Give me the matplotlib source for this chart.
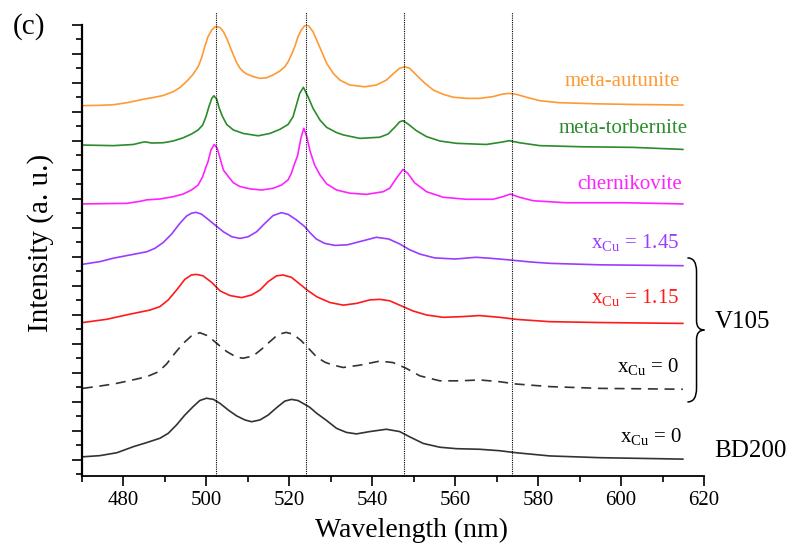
import matplotlib
matplotlib.use('Agg')
import matplotlib.pyplot as plt
from matplotlib.ticker import MultipleLocator
from matplotlib.path import Path
from matplotlib.patches import PathPatch

plt.rcParams['font.family'] = ['Liberation Serif', 'DejaVu Serif']
plt.rcParams['mathtext.fontset'] = 'custom'
plt.rcParams['mathtext.rm'] = 'Liberation Serif'

# spectra (wavelength in nm, intensity in stacked a.u.)
wl_autunite = [470.2, 474.3, 477.6, 480.8, 483.2, 484.8, 487.2, 489.6, 492.0, 493.6, 495.2, 496.8,
               498.0, 498.8, 499.6, 500.4, 501.3, 502.1, 502.6, 503.3, 504.1, 504.9, 505.7, 506.5,
               507.3, 508.1, 508.9, 509.7, 511.3, 512.9, 514.5, 516.1, 517.7, 518.9, 519.7, 520.5,
               521.3, 522.1, 522.9, 523.7, 524.5, 525.7, 526.6, 527.8, 529.0, 530.6, 532.2, 534.6,
               538.2, 541.0, 543.4, 545.0, 546.6, 547.8, 549.0, 550.6, 552.7, 554.7, 557.1, 559.5,
               562.7, 565.9, 569.1, 571.5, 573.1, 574.7, 577.2, 580.4, 585.2, 594.8, 602.9, 614.9]
int_autunite = [12.22, 12.23, 12.25, 12.32, 12.39, 12.44, 12.50, 12.57, 12.70, 12.84, 13.05, 13.30,
                13.56, 13.85, 14.25, 14.60, 14.83, 14.94, 14.94, 14.91, 14.77, 14.54, 14.25, 13.97,
                13.70, 13.51, 13.39, 13.31, 13.22, 13.16, 13.18, 13.28, 13.41, 13.56, 13.73, 13.97,
                14.25, 14.60, 14.83, 14.98, 15.00, 14.77, 14.48, 14.08, 13.68, 13.33, 13.10, 12.93,
                12.87, 12.93, 13.10, 13.31, 13.51, 13.56, 13.51, 13.28, 12.99, 12.76, 12.61, 12.51,
                12.47, 12.47, 12.53, 12.62, 12.64, 12.61, 12.51, 12.39, 12.32, 12.28, 12.26, 12.24]

wl_torbernite = [470.2, 477.6, 482.4, 484.4, 485.2, 486.8, 489.6, 492.0, 494.4, 496.4, 498.0, 499.1,
                 499.9, 500.6, 501.3, 501.8, 502.5, 503.1, 503.9, 504.9, 506.5, 508.9, 512.5, 515.3,
                 517.7, 519.7, 520.9, 521.7, 522.5, 523.4, 524.5, 525.7, 527.4, 529.0, 531.4, 533.0,
                 537.0, 541.8, 543.8, 545.4, 546.6, 547.4, 548.6, 550.6, 553.1, 556.3, 560.3, 567.5,
                 570.7, 573.1, 575.5, 580.4, 590.8, 602.9, 614.9]
int_torbernite = [10.86, 10.84, 10.88, 10.95, 10.97, 10.93, 10.94, 11.00, 11.11, 11.24, 11.38, 11.55,
                  11.84, 12.18, 12.47, 12.56, 12.44, 12.13, 11.84, 11.57, 11.38, 11.26, 11.18, 11.26,
                  11.40, 11.57, 11.84, 12.24, 12.64, 12.85, 12.53, 12.13, 11.72, 11.47, 11.29, 11.21,
                  11.09, 11.13, 11.24, 11.47, 11.66, 11.70, 11.59, 11.36, 11.15, 11.00, 10.92, 10.88,
                  10.95, 11.01, 10.94, 10.84, 10.80, 10.78, 10.71]

wl_chernikovite = [470.2, 480.8, 484.0, 485.6, 488.8, 492.0, 494.4, 496.4, 498.0, 499.1, 499.9, 500.4,
                   501.1, 501.9, 502.6, 503.3, 504.1, 505.3, 506.5, 508.1, 510.5, 513.3, 516.1, 518.1,
                   519.7, 520.5, 521.1, 522.0, 522.8, 523.5, 524.2, 525.0, 526.1, 527.4, 529.0, 531.4,
                   534.6, 538.6, 542.6, 544.2, 545.8, 547.4, 548.6, 550.2, 553.1, 557.1, 562.7, 569.1,
                   571.5, 573.3, 575.5, 578.8, 586.8, 601.3, 614.9]
int_chernikovite = [8.83, 8.85, 8.92, 8.97, 9.00, 9.08, 9.17, 9.31, 9.48, 9.77, 10.11, 10.29,
                    10.69, 10.88, 10.75, 10.40, 10.00, 9.77, 9.56, 9.43, 9.35, 9.31, 9.37, 9.48,
                    9.66, 9.89, 10.15, 10.50, 11.10, 11.44, 11.15, 10.65, 10.17, 9.83, 9.52, 9.31,
                    9.20, 9.16, 9.25, 9.37, 9.71, 10.02, 9.88, 9.56, 9.25, 9.06, 8.99, 8.99,
                    9.08, 9.17, 9.06, 8.94, 8.87, 8.87, 8.83]

wl_v105_145 = [470.2, 474.3, 477.6, 481.6, 485.6, 487.6, 489.6, 491.6, 493.6, 495.2, 496.4, 497.5,
               498.8, 500.4, 502.1, 504.1, 506.1, 508.1, 510.1, 512.1, 514.1, 516.1, 518.1, 519.7,
               521.7, 523.7, 524.9, 526.5, 528.5, 531.0, 534.0, 537.5, 541.0, 544.0, 546.6, 549.0,
               551.5, 555.0, 560.0, 565.0, 569.0, 573.0, 578.0, 583.0, 595.0, 614.9]
int_v105_145 = [6.75, 6.84, 6.96, 7.07, 7.18, 7.30, 7.50, 7.79, 8.16, 8.41, 8.51, 8.54,
                8.48, 8.30, 8.10, 7.87, 7.70, 7.64, 7.70, 7.87, 8.16, 8.43, 8.53, 8.47,
                8.28, 8.05, 7.85, 7.62, 7.47, 7.40, 7.42, 7.55, 7.68, 7.62, 7.45, 7.25,
                7.10, 6.97, 6.93, 6.99, 6.95, 6.90, 6.83, 6.78, 6.73, 6.70]

wl_v105_115 = [470.2, 475.9, 481.6, 486.4, 488.8, 490.8, 492.8, 494.8, 496.4, 497.6, 499.2, 501.3,
               503.3, 505.7, 508.5, 510.9, 512.9, 514.9, 516.9, 518.5, 520.5, 522.5, 524.5, 526.6,
               529.8, 533.0, 536.2, 539.4, 541.8, 544.2, 546.6, 549.8, 553.1, 557.1, 561.1, 565.9,
               570.7, 574.7, 582.8, 594.8, 614.9]
int_v105_115 = [4.74, 4.85, 5.03, 5.17, 5.29, 5.52, 5.86, 6.23, 6.38, 6.40, 6.35, 6.12,
                5.83, 5.67, 5.60, 5.69, 5.86, 6.15, 6.35, 6.38, 6.30, 6.07, 5.84, 5.63,
                5.43, 5.34, 5.40, 5.52, 5.54, 5.49, 5.34, 5.14, 5.00, 4.92, 4.94, 4.98,
                4.92, 4.85, 4.77, 4.74, 4.71]

wl_v105_0 = [470.2, 474.3, 477.6, 481.6, 485.6, 488.4, 490.4, 492.4, 494.4, 496.4, 498.4, 500.4,
             502.5, 504.9, 507.3, 508.9, 511.3, 513.3, 515.3, 517.3, 519.2, 520.9, 522.9, 524.7,
             526.6, 528.6, 530.6, 533.0, 537.0, 541.8, 545.0, 548.2, 551.5, 556.3, 561.1, 565.9,
             570.7, 574.7, 582.8, 594.8, 614.9]
int_v105_0 = [2.47, 2.55, 2.62, 2.74, 2.87, 3.04, 3.31, 3.68, 4.02, 4.28, 4.39, 4.28,
              4.02, 3.74, 3.54, 3.51, 3.59, 3.82, 4.08, 4.33, 4.40, 4.34, 4.11, 3.84,
              3.55, 3.37, 3.27, 3.19, 3.27, 3.41, 3.36, 3.16, 2.90, 2.73, 2.73, 2.76,
              2.70, 2.62, 2.53, 2.47, 2.44]

wl_bd200 = [470.2, 474.3, 478.4, 482.4, 485.6, 488.8, 490.8, 492.8, 494.8, 496.8, 498.4, 500.0,
            501.7, 503.3, 505.3, 507.3, 509.3, 510.9, 512.9, 514.9, 516.9, 518.9, 520.5, 522.1,
            523.7, 524.9, 526.6, 529.0, 531.4, 533.8, 536.2, 539.4, 543.4, 546.6, 549.0, 552.3,
            556.3, 560.3, 565.9, 570.7, 574.7, 582.8, 594.8, 614.9]
int_bd200 = [0.11, 0.15, 0.25, 0.46, 0.60, 0.75, 0.92, 1.21, 1.55, 1.84, 2.05, 2.13,
             2.09, 1.95, 1.72, 1.52, 1.38, 1.32, 1.38, 1.55, 1.80, 2.03, 2.09, 2.05,
             1.92, 1.82, 1.61, 1.36, 1.09, 0.95, 0.90, 0.98, 1.06, 0.98, 0.80, 0.57,
             0.44, 0.39, 0.37, 0.32, 0.25, 0.14, 0.08, 0.03]

peak_lines = [502.3, 524.0, 547.6, 573.6]

fig = plt.figure(figsize=(7.91, 5.5), dpi=100)
ax = fig.add_axes([82 / 791, 1 - 476 / 550, 622 / 791, 451 / 550])

lw = 1.2
ax.plot(wl_autunite, int_autunite, color='#ff9933', lw=lw)
ax.plot(wl_torbernite, int_torbernite, color='#2a8c2a', lw=lw)
ax.plot(wl_chernikovite, int_chernikovite, color='#ff22ff', lw=lw)
ax.plot(wl_v105_145, int_v105_145, color='#9a3cff', lw=lw)
ax.plot(wl_v105_115, int_v105_115, color='#ff1a1a', lw=lw)
ax.plot(wl_v105_0, int_v105_0, color='#333333', lw=lw, ls=(0, (6, 4)))
ax.plot(wl_bd200, int_bd200, color='#333333', lw=lw)

ax.vlines(peak_lines, 0, 1.029, transform=ax.get_xaxis_transform(), colors='black',
          linestyles=(0, (1, 1)), lw=0.8, clip_on=False)

ax.set_xlim(470, 620)
ax.set_ylim(-0.552, 15)
ax.xaxis.set_major_locator(MultipleLocator(20))
ax.xaxis.set_minor_locator(MultipleLocator(10))
ax.yaxis.set_major_locator(MultipleLocator(1))
ax.yaxis.set_minor_locator(MultipleLocator(0.5))
ax.tick_params(which='major', direction='out', length=7, width=1.2, labelsize=15, pad=4)
ax.tick_params(which='minor', direction='out', length=4, width=1.2)
ax.tick_params(axis='y', labelleft=False)
for s in ['top', 'right']:
    ax.spines[s].set_visible(False)
ax.spines['left'].set_linewidth(1.6)
ax.spines['bottom'].set_linewidth(1.3)

ax.set_xlabel('Wavelength (nm)', fontsize=20)
ax.xaxis.set_label_coords(0.53, -0.093)
ax.set_ylabel('Intensity (a. u.)', fontsize=21)
ax.yaxis.set_label_coords(-0.045, 0.517)

# curve labels
lab = dict(fontsize=15, ha='right', va='baseline')
ax.text(614.3, 12.9, 'meta-autunite', color='#ff9933', **lab)
ax.text(616.0, 11.28, 'meta-torbernite', color='#2a8c2a', **lab)
ax.text(614.6, 9.34, 'chernikovite', color='#ff22ff', **lab)
ax.text(614.1, 7.31, r'x$_{\mathregular{Cu}}$ = 1.45', color='#9a3cff', **lab)
ax.text(614.1, 5.41, r'x$_{\mathregular{Cu}}$ = 1.15', color='#ff1a1a', **lab)
ax.text(614.1, 3.03, r'x$_{\mathregular{Cu}}$ = 0', color='black', **lab)
ax.text(614.6, 0.62, r'x$_{\mathregular{Cu}}$ = 0', color='black', **lab)

ax.text(622.5, 4.76, 'V105', fontsize=18, ha='left', va='center', clip_on=False)
ax.text(622.5, 0.30, 'BD200', fontsize=18, ha='left', va='center', clip_on=False)

# curly brace grouping the V105 spectra
brace = Path([(616.0, 6.97), (618.2, 6.97), (618.2, 6.5), (618.2, 4.8),
              (618.2, 4.48), (620.1, 4.48), (618.2, 4.48), (618.2, 4.16),
              (618.2, 2.47), (618.2, 2.0), (616.0, 2.0)],
             [Path.MOVETO, Path.CURVE3, Path.CURVE3, Path.LINETO,
              Path.CURVE3, Path.CURVE3, Path.CURVE3, Path.CURVE3,
              Path.LINETO, Path.CURVE3, Path.CURVE3])
ax.add_patch(PathPatch(brace, fill=False, lw=1.1, color='black', clip_on=False))

fig.text(13 / 791, 1 - 27 / 550, '(c)', fontsize=21, va='center', ha='left')

fig.savefig('out.png', dpi=100)
